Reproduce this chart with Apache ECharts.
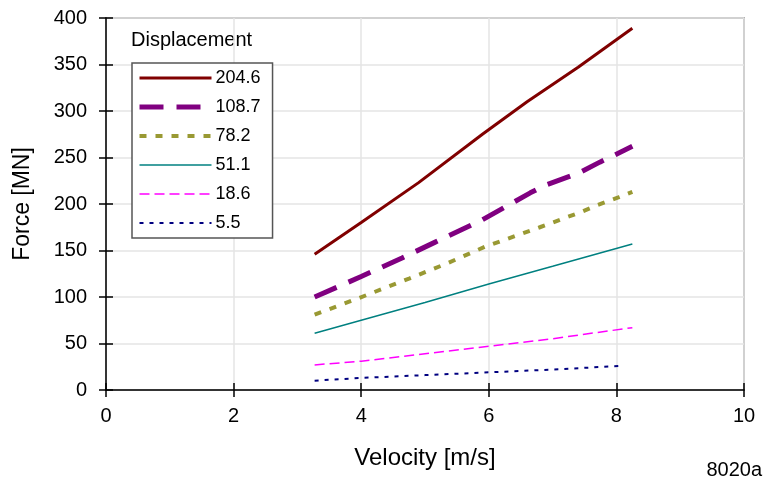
<!DOCTYPE html>
<html>
<head>
<meta charset="utf-8">
<script src="https://cdn.jsdelivr.net/npm/echarts@6/dist/echarts.min.js"></script>
<style>html,body{margin:0;padding:0;background:#fff}#c{width:768px;height:480px}</style>
</head>
<body>
<div id="c"></div>
<script>
// Series names (displacement)
const seriesNames = ['204.6', '108.7', '78.2', '51.1', '18.6', '5.5'];
// Velocity values [m/s] and force values [MN] per series
const vel204 = [3.27, 4.0, 4.9, 5.9, 6.6, 7.4, 8.25];
const force204 = [146, 180, 223, 275, 310, 347, 389];
const vel108 = [3.27, 4.0, 4.64, 5.16, 5.9, 6.65, 6.88, 7.43, 7.74, 8.25];
const force108 = [100, 122, 142, 159, 183, 212, 220, 234, 245, 262];
const vel78 = [3.27, 3.93, 4.76, 5.34, 5.94, 6.8, 7.43, 7.71, 8.03, 8.25];
const force78 = [81, 98, 120, 136, 154, 175, 191, 199, 207, 213];
const vel51 = [3.27, 4.0, 5.0, 6.0, 7.0, 8.25];
const force51 = [61, 75, 94, 114, 133, 157];
const vel18 = [3.27, 4.0, 5.0, 6.0, 7.0, 7.5, 8.25];
const force18 = [27, 31, 39, 47, 55, 60, 67];
const vel5 = [3.27, 4.0, 5.0, 6.0, 7.0, 8.1];
const force5 = [10, 13, 16, 19, 22, 26];
// Axis ticks
const xTicks = [0, 2, 4, 6, 8, 10];
const yTicks = [0, 50, 100, 150, 200, 250, 300, 350, 400];

const pairs = (xs, ys) => xs.map((x, i) => [x, ys[i]]);
const styles = [
  {color: '#800000', width: 3, type: 'solid'},
  {color: '#800080', width: 5, type: [24, 13]},
  {color: '#999933', width: 4, type: [7, 9]},
  {color: '#008080', width: 1.5, type: 'solid'},
  {color: '#ff00ff', width: 1.5, type: [10, 5]},
  {color: '#000080', width: 2, type: [4, 6]}
];
const datas = [pairs(vel204, force204), pairs(vel108, force108), pairs(vel78, force78),
               pairs(vel51, force51), pairs(vel18, force18), pairs(vel5, force5)];

const FONT = 'Liberation Sans, Arial, sans-serif';
const chart = echarts.init(document.getElementById('c'), null, {renderer: 'canvas'});
const baseX = {
  type: 'value', min: xTicks[0], max: xTicks[xTicks.length - 1], interval: 2,
  position: 'bottom'
};
const baseY = {
  type: 'value', min: yTicks[0], max: yTicks[yTicks.length - 1], interval: 50,
  position: 'left'
};
chart.setOption({
  animation: false,
  backgroundColor: '#fff',
  grid: {left: 106, right: 24, top: 18, bottom: 90, show: true, borderColor: '#777', borderWidth: 1.5, backgroundColor: 'transparent'},
  xAxis: [
    Object.assign({}, baseX, {
      name: 'Velocity [m/s]', nameLocation: 'middle', nameGap: 56,
      nameTextStyle: {fontFamily: FONT, fontSize: 24, color: '#000'},
      axisLine: {show: true, onZero: false, lineStyle: {color: '#000', width: 1.5}},
      axisTick: {show: true, length: 7, lineStyle: {color: '#000', width: 1.5}},
      axisLabel: {fontFamily: FONT, fontSize: 20, color: '#000', margin: 16},
      splitLine: {show: true, lineStyle: {color: '#e4e4e4', width: 1.5}}
    }),
    Object.assign({}, baseX, {
      axisLine: {show: false},
      axisTick: {show: true, inside: true, length: 7, lineStyle: {color: '#000', width: 1.5}},
      axisLabel: {show: false},
      splitLine: {show: false}
    })
  ],
  yAxis: [
    Object.assign({}, baseY, {
      name: 'Force [MN]', nameLocation: 'middle', nameGap: 72,
      nameTextStyle: {fontFamily: FONT, fontSize: 23, color: '#000'},
      axisLine: {show: true, onZero: false, lineStyle: {color: '#000', width: 1.5}},
      axisTick: {show: true, length: 7, lineStyle: {color: '#000', width: 1.5}},
      axisLabel: {fontFamily: FONT, fontSize: 20, color: '#000', margin: 19},
      splitLine: {show: true, lineStyle: {color: '#e4e4e4', width: 1.5}}
    }),
    Object.assign({}, baseY, {
      axisLine: {show: false},
      axisTick: {show: true, inside: true, length: 7, lineStyle: {color: '#000', width: 1.5}},
      axisLabel: {show: false},
      splitLine: {show: false}
    })
  ],
  legend: {
    orient: 'vertical', left: 132, top: 63,
    padding: [6, 12, 6, 5],
    itemWidth: 72, itemHeight: 14, itemGap: 11,
    backgroundColor: '#fff', borderColor: '#555', borderWidth: 1.5, borderRadius: 0,
    textStyle: {fontFamily: FONT, fontSize: 18, lineHeight: 18, color: '#000', padding: [0, 0, 0, -1]},
    itemStyle: {opacity: 0},
    data: seriesNames.map((n, i) => ({
      name: n,
      itemStyle: {opacity: 0},
      lineStyle: {color: styles[i].color, width: styles[i].width, type: styles[i].type, cap: 'butt'}
    }))
  },
  graphic: [
    {type: 'text', left: 131, top: 30, style: {text: 'Displacement', font: '20px ' + FONT, fill: '#000'}},
    {type: 'text', right: 6, top: 460, style: {text: '8020a', font: '20px ' + FONT, fill: '#000'}}
  ],
  series: seriesNames.map((n, i) => ({
    name: n, type: 'line', data: datas[i], symbol: 'none', smooth: false,
    xAxisIndex: 0, yAxisIndex: 0,
    color: styles[i].color,
    lineStyle: {color: styles[i].color, width: styles[i].width, type: styles[i].type, cap: 'butt'}
  }))
});
</script>
</body>
</html>
